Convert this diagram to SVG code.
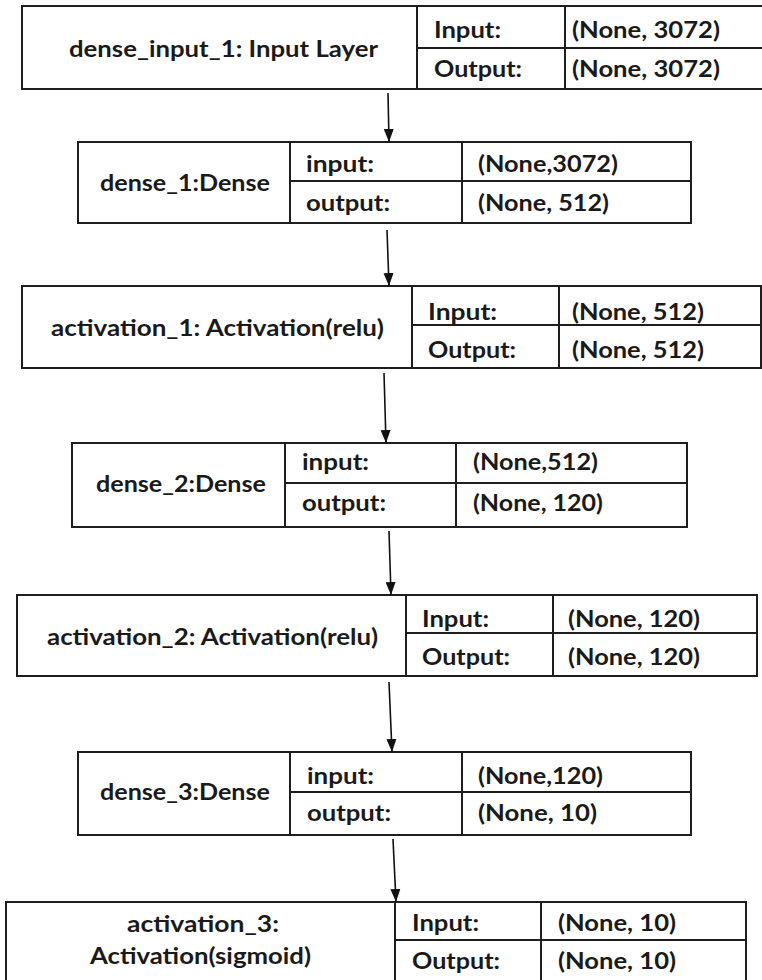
<svg xmlns="http://www.w3.org/2000/svg" width="762" height="980" viewBox="0 0 762 980">
<style>
.box{fill:#fff;stroke:#1e1e1e;stroke-width:2}
.ln{stroke:#1e1e1e;stroke-width:2;fill:none}
.t{font-family:Lato,"Liberation Sans",sans-serif;font-weight:bold;font-size:23px;fill:#1a1a1a}
.edge{stroke:#111;stroke-width:1.6;fill:none;marker-end:url(#ah)}
</style>
<defs>
<marker id="ah" markerUnits="userSpaceOnUse" markerWidth="14" markerHeight="14" viewBox="0 0 14 14" refX="13" refY="7" orient="auto">
<path d="M0,2 L13,7 L0,12 Z" fill="#111"/>
</marker>
</defs>
<rect width="762" height="980" fill="#fff"/>

<g id="dense_input_1">
<rect class="box" x="22" y="6" width="744" height="83"/>
<line class="ln" x1="417" y1="6" x2="417" y2="89"/>
<line class="ln" x1="565" y1="6" x2="565" y2="89"/>
<line class="ln" x1="417" y1="48" x2="766" y2="48"/>
<text class="t" x="69" y="57" textLength="309" lengthAdjust="spacingAndGlyphs">dense_input_1: Input Layer</text>
<text class="t" x="434" y="38" textLength="67" lengthAdjust="spacingAndGlyphs">Input:</text>
<text class="t" x="434" y="77" textLength="88" lengthAdjust="spacingAndGlyphs">Output:</text>
<text class="t" x="572" y="38" textLength="148" lengthAdjust="spacingAndGlyphs">(None, 3072)</text>
<text class="t" x="572" y="77" textLength="148" lengthAdjust="spacingAndGlyphs">(None, 3072)</text>
</g>

<g id="dense_1">
<rect class="box" x="78" y="142" width="613" height="81"/>
<line class="ln" x1="290" y1="142" x2="290" y2="223"/>
<line class="ln" x1="462" y1="142" x2="462" y2="223"/>
<line class="ln" x1="290" y1="181" x2="691" y2="181"/>
<text class="t" x="100" y="191" textLength="170" lengthAdjust="spacingAndGlyphs">dense_1:Dense</text>
<text class="t" x="306" y="172" textLength="68" lengthAdjust="spacingAndGlyphs">input:</text>
<text class="t" x="306" y="211" textLength="84" lengthAdjust="spacingAndGlyphs">output:</text>
<text class="t" x="478" y="172" textLength="140" lengthAdjust="spacingAndGlyphs">(None,3072)</text>
<text class="t" x="478" y="211" textLength="131" lengthAdjust="spacingAndGlyphs">(None, 512)</text>
</g>

<g id="activation_1">
<rect class="box" x="22" y="286" width="739" height="82"/>
<line class="ln" x1="412" y1="286" x2="412" y2="368"/>
<line class="ln" x1="559" y1="286" x2="559" y2="368"/>
<line class="ln" x1="412" y1="325" x2="761" y2="325"/>
<text class="t" x="51" y="336" textLength="333" lengthAdjust="spacingAndGlyphs">activation_1: Activation(relu)</text>
<text class="t" x="428" y="320" textLength="69" lengthAdjust="spacingAndGlyphs">Input:</text>
<text class="t" x="428" y="358" textLength="88" lengthAdjust="spacingAndGlyphs">Output:</text>
<text class="t" x="572" y="320" textLength="132" lengthAdjust="spacingAndGlyphs">(None, 512)</text>
<text class="t" x="572" y="358" textLength="132" lengthAdjust="spacingAndGlyphs">(None, 512)</text>
</g>

<g id="dense_2">
<rect class="box" x="72" y="443" width="615" height="84"/>
<line class="ln" x1="285" y1="443" x2="285" y2="527"/>
<line class="ln" x1="456" y1="443" x2="456" y2="527"/>
<line class="ln" x1="285" y1="483" x2="687" y2="483"/>
<text class="t" x="96" y="492" textLength="170" lengthAdjust="spacingAndGlyphs">dense_2:Dense</text>
<text class="t" x="302" y="470" textLength="67" lengthAdjust="spacingAndGlyphs">input:</text>
<text class="t" x="302" y="511" textLength="84" lengthAdjust="spacingAndGlyphs">output:</text>
<text class="t" x="473" y="470" textLength="125" lengthAdjust="spacingAndGlyphs">(None,512)</text>
<text class="t" x="473" y="511" textLength="130" lengthAdjust="spacingAndGlyphs">(None, 120)</text>
</g>

<g id="activation_2">
<rect class="box" x="17" y="595" width="740" height="81"/>
<line class="ln" x1="406" y1="595" x2="406" y2="676"/>
<line class="ln" x1="553" y1="595" x2="553" y2="676"/>
<line class="ln" x1="406" y1="633" x2="757" y2="633"/>
<text class="t" x="47" y="645" textLength="331" lengthAdjust="spacingAndGlyphs">activation_2: Activation(relu)</text>
<text class="t" x="422" y="627" textLength="67" lengthAdjust="spacingAndGlyphs">Input:</text>
<text class="t" x="422" y="665" textLength="88" lengthAdjust="spacingAndGlyphs">Output:</text>
<text class="t" x="568" y="627" textLength="132" lengthAdjust="spacingAndGlyphs">(None, 120)</text>
<text class="t" x="568" y="665" textLength="132" lengthAdjust="spacingAndGlyphs">(None, 120)</text>
</g>

<g id="dense_3">
<rect class="box" x="78" y="752" width="613" height="83"/>
<line class="ln" x1="290" y1="752" x2="290" y2="835"/>
<line class="ln" x1="462" y1="752" x2="462" y2="835"/>
<line class="ln" x1="290" y1="792" x2="691" y2="792"/>
<text class="t" x="100" y="800" textLength="170" lengthAdjust="spacingAndGlyphs">dense_3:Dense</text>
<text class="t" x="307" y="784" textLength="67" lengthAdjust="spacingAndGlyphs">input:</text>
<text class="t" x="307" y="821" textLength="84" lengthAdjust="spacingAndGlyphs">output:</text>
<text class="t" x="478" y="784" textLength="125" lengthAdjust="spacingAndGlyphs">(None,120)</text>
<text class="t" x="478" y="821" textLength="119" lengthAdjust="spacingAndGlyphs">(None, 10)</text>
</g>

<g id="activation_3">
<rect class="box" x="6" y="902" width="740" height="100"/>
<line class="ln" x1="395" y1="902" x2="395" y2="1002"/>
<line class="ln" x1="541" y1="902" x2="541" y2="1002"/>
<line class="ln" x1="395" y1="940" x2="746" y2="940"/>
<text class="t" x="127" y="932" textLength="152" lengthAdjust="spacingAndGlyphs">activation_3:</text>
<text class="t" x="90" y="964" textLength="221" lengthAdjust="spacingAndGlyphs">Activation(sigmoid)</text>
<text class="t" x="412" y="931" textLength="67" lengthAdjust="spacingAndGlyphs">Input:</text>
<text class="t" x="412" y="969" textLength="88" lengthAdjust="spacingAndGlyphs">Output:</text>
<text class="t" x="558" y="931" textLength="118" lengthAdjust="spacingAndGlyphs">(None, 10)</text>
<text class="t" x="558" y="969" textLength="118" lengthAdjust="spacingAndGlyphs">(None, 10)</text>
</g>

<g id="connectors">
<line class="edge" x1="388" y1="93" x2="389" y2="142"/>
<line class="edge" x1="387" y1="230" x2="389" y2="286"/>
<line class="edge" x1="384" y1="373" x2="386" y2="443"/>
<line class="edge" x1="389" y1="531" x2="391" y2="595"/>
<line class="edge" x1="389" y1="682" x2="392" y2="752"/>
<line class="edge" x1="393" y1="839" x2="396" y2="902"/>
</g>
</svg>
